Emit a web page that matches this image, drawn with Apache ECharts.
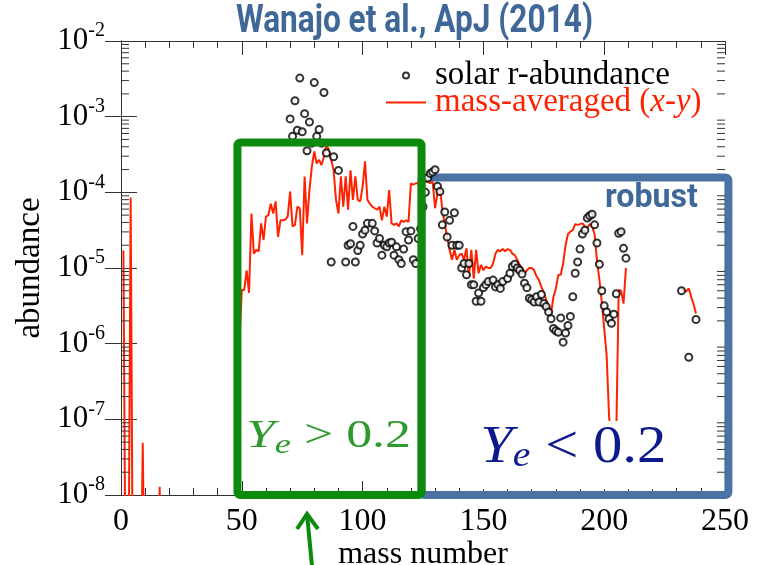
<!DOCTYPE html>
<html>
<head>
<meta charset="utf-8">
<script src="https://cdn.jsdelivr.net/npm/echarts@6/dist/echarts.min.js"></script>
<style>
  html, body { margin: 0; padding: 0; background: #fff; }
  #chart { width: 766px; height: 565px; }
</style>
</head>
<body>
<div id="chart"></div>
<script>
// Axis ranges
const massMin = 0, massMax = 250, massStep = 50;
const abundMin = 1e-8, abundMax = 1e-2;

const SOLAR_NAME = 'solar r-abundance';
const MODEL_NAME = 'mass-averaged (x-y)';

// Mass-averaged abundances, log10, for A = 1, 2, 3, ...
// null: nothing computed; -10: far below the plotted floor.
const modelLogY = [
  -4.77, -10, -10, -4.07, -10, -10, -10, -10, -7.31, -10,      // 1-10
  -10, -10, -10, -10, -10, -7.89, -10, null, null, null,        // 11-20
  null, null, null, null, null, null, null, null, null, null,   // 21-30
  null, null, null, null, null, null, null, null, null, null,   // 31-40
  null, null, null, null, null, null, null, -10, -6.0, -5.29,   // 41-50
  -5.29, -5.03, -5.33, -4.28, -4.81, -4.76, -4.78, -4.41, -4.63, -4.32, // 51-60
  -4.30, -4.15, -4.28, -4.12, -4.59, -4.37, -4.37, -4.36, -4.32, -3.99, // 61-70
  -4.45, -4.43, -4.19, -4.21, -4.83, -3.79, -4.41, -3.97, -3.66, -3.46, // 71-80
  -3.62, -3.57, -3.64, -3.53, -3.37, -3.44, -3.57, -3.71, -4.10, -4.28, // 81-90
  -3.79, -4.19, -3.79, -4.23, -3.71, -4.10, -3.79, -4.10, -4.12, -3.93, // 91-100
  -3.59, -4.10, -4.15, -4.19, -4.21, -4.23, -4.19, -4.37, -4.19, -4.32, // 101-110
  -3.97, -4.41, -4.43, -4.41, -4.45, -4.37, -4.39, -4.37, -4.39, -3.88, // 111-120
  -3.90, -3.88, -3.88, -3.87, -3.88, -3.86, -3.86, -3.88, -3.86, -4.21, // 121-130
  -4.01, -3.92, -4.23, -4.41, -4.59, -4.76, -4.89, -4.76, -4.89, -4.83, // 131-140
  -4.81, -4.89, -4.74, -5.11, -4.76, -5.14, -4.76, -5.07, -4.96, -5.03, // 141-150
  -4.98, -5.00, -5.00, -4.94, -4.81, -4.76, -4.78, -4.75, -4.78, -4.75, // 151-160
  -4.76, -4.81, -4.83, -4.89, -4.96, -5.00, -5.07, -5.03, -5.00, -5.00, // 161-170
  -5.03, -5.11, -5.16, -5.25, -5.33, -5.42, -5.51, -5.60, -5.38, -5.27, // 171-180
  -5.09, -5.09, -4.94, -4.70, -4.55, -4.52, -4.50, -4.42, -4.43, -4.42, // 181-190
  -4.41, -4.45, -4.47, -4.42, -4.45, -4.55, -4.90, -5.15, -5.45, -5.80, // 191-200
  -6.15, -6.95, -7.30, -7.30, -7.20, -5.29, -5.30, -5.47, -5.00, null,  // 201-210
  null, null, null, null, null, null, null, null, null, null,   // 211-220
  null, null, null, null, null, null, null, null, null, null,   // 221-230
  null, -5.28, -5.30, -5.31, -5.27, -5.38, -5.48, -5.60          // 231-238
];

// Solar r-process residuals: mass number and log10 abundance
const solarMass = [
  70, 71, 72, 73, 74, 75, 76, 77, 78, 79, 80, 81, 82, 83, 84, 85, 87, 88, 90,
  93, 94, 95, 96, 97, 98, 99, 100, 101, 102, 104, 105, 106, 107, 108, 109, 110,
  111, 112, 113, 114, 115, 116, 117, 118, 119, 120, 121, 122, 123, 124, 125, 126,
  127, 128, 129, 130, 131, 132, 133, 134, 135, 136, 137, 138, 139, 140, 141, 142,
  143, 144, 145, 146, 147, 148, 149, 150, 151, 152, 154, 155, 156, 157, 158, 160,
  161, 162, 163, 164, 165, 166, 167, 168, 169, 170, 171, 172, 173, 174, 175, 176,
  177, 178, 179, 180, 181, 182, 183, 184, 185, 186, 187, 188, 189, 190, 191, 192,
  193, 194, 195, 196, 197, 198, 199, 200, 201, 202, 203, 204, 205, 206, 207, 208,
  209, 232, 235, 238
];
const solarLogY = [
  -3.03, -3.26, -2.79, -3.18, -2.49, -3.20, -2.96, -3.45, -3.07, -3.35, -2.55, -3.26, -3.17, -3.35, -2.68, -3.48, -4.92, -3.53, -3.71,
  -4.92, -4.70, -4.68, -4.45, -4.92, -4.77, -4.70, -4.55, -4.50, -4.41, -4.41, -4.51, -4.67, -4.61, -4.83, -4.70, -4.72,
  -4.67, -4.66, -4.83, -4.72, -4.89, -4.94, -4.75, -4.52, -4.63, -4.51, -4.89, -4.94, -4.61, -4.48, -4.19, -4.00,
  -3.81, -3.75, -3.73, -3.70, -3.92, -3.99, -4.43, -4.26, -4.59, -4.37, -4.70, -4.27, -4.70, -4.70, -5.00, -4.94,
  -5.09, -4.94, -5.22, -5.22, -5.44, -5.33, -5.44, -5.26, -5.22, -5.18, -5.16, -5.25, -5.22, -5.27, -5.18, -5.14,
  -5.07, -4.98, -4.95, -5.00, -5.03, -5.08, -5.20, -5.26, -5.40, -5.42, -5.45, -5.38, -5.45, -5.35, -5.47, -5.51,
  -5.58, -5.67, -5.80, -5.83, -5.85, -5.66, -5.98, -5.86, -5.76, -5.64, -5.38, -5.07, -4.92, -4.75, -4.55, -4.50,
  -4.34, -4.31, -4.29, -4.43, -4.67, -4.95, -5.30, -5.50, -5.58, -5.67, -5.73, -5.61, -5.34, -4.54, -4.52, -4.74,
  -4.87, -5.30, -6.18, -5.68
];

// Outlined regions: [mass from, mass to, abundance bottom, abundance top]
const regionHighYe = [48.2, 124.4, 1e-8, 4.56e-4];
const regionLowYe = [124.4, 251.4, 1e-8, 1.57e-4];

// Decade exponents shown on the abundance axis
const decadeExponents = [-8, -7, -6, -5, -4, -3, -2];

const SERIF = 'Liberation Serif';
const FONT_SERIF = "'Liberation Serif', 'Times New Roman', serif";
const BANNER_FAMILY = 'Roboto';
const FRAME = '#333';
const RED = '#ff2200';
const GREEN = '#0b8a0b';
const STEEL = '#4a72a3';
const BANNER = '#3f6797';
const HIGH_YE_TEXT = '#2e9a2e';
const LOW_YE_TEXT = '#0d1a8c';

const modelData = modelLogY.map((v, i) => [i + 1, v === null ? null : Math.pow(10, v)]);
const solarData = solarMass.map((a, i) => [a, Math.pow(10, solarLogY[i])]);

// 2..9 x 10^n minor ticks of the log axis
const logMinorTicks = [];
for (let e = decadeExponents[0]; e < decadeExponents[decadeExponents.length - 1]; e++) {
  for (let k = 2; k <= 9; k++) logMinorTicks.push([massMin, k * Math.pow(10, e)]);
}

// Text width helper, used to squeeze/stretch banner text to a set width
const measureCtx = document.createElement('canvas').getContext('2d');
function textWidth(font, text) {
  measureCtx.font = font;
  return measureCtx.measureText(text).width;
}
function fitScale(parts, width) {
  let w = 0;
  parts.forEach(p => { w += textWidth(p[0], p[1]); });
  return width / w;
}

function boxRenderer(color) {
  return function (params, api) {
    const tl = api.coord([api.value(0), api.value(3)]);
    const br = api.coord([api.value(1), api.value(2)]);
    return {
      type: 'rect',
      shape: { x: tl[0], y: tl[1], width: br[0] - tl[0], height: br[1] - tl[1], r: 3 },
      style: { fill: 'none', stroke: color, lineWidth: 8, lineJoin: 'round' }
    };
  };
}

function minorTickRenderer(params, api) {
  const v = api.value(1);
  const left = api.coord([massMin, v]);
  const right = api.coord([massMax, v]);
  const st = { stroke: FRAME, lineWidth: 1 };
  return {
    type: 'group',
    children: [
      { type: 'line', shape: { x1: left[0], y1: left[1], x2: left[0] + 8, y2: left[1] }, style: st },
      { type: 'line', shape: { x1: right[0] - 8, y1: right[1], x2: right[0], y2: right[1] }, style: st }
    ]
  };
}

const xCommon = {
  type: 'value', min: massMin, max: massMax, interval: massStep,
  splitLine: { show: false },
  axisLine: { show: true, onZero: false, lineStyle: { color: FRAME, width: 1 } },
  axisTick: { show: true, inside: true, length: 14, lineStyle: { color: FRAME } },
  minorTick: { show: true, splitNumber: 5, length: 7, lineStyle: { color: FRAME } },
  minorSplitLine: { show: false }
};
const yCommon = {
  type: 'log', logBase: 10, min: abundMin, max: abundMax,
  splitLine: { show: false },
  axisLine: { show: true, lineStyle: { color: FRAME, width: 1 } },
  axisTick: { show: true, inside: true, length: 16, lineStyle: { color: FRAME } }
};

// Banner texts
const titleFont = 'bold 38px ' + BANNER_FAMILY;
const titleText = 'Wanajo et al., ApJ (2014)';
const robustFont = 'bold 33px ' + BANNER_FAMILY;
const highYeScale = fitScale([
  ['italic 40px "' + SERIF + '"', 'Y'], ['italic 28px "' + SERIF + '"', 'e'], ['40px "' + SERIF + '"', ' > 0.2']
], 165);
const lowYeScale = fitScale([
  ['italic 53px "' + SERIF + '"', 'Y'], ['italic 36px "' + SERIF + '"', 'e'], ['53px "' + SERIF + '"', ' < 0.2']
], 186);

const chart = echarts.init(document.getElementById('chart'), null, { renderer: 'canvas' });

chart.setOption({
  backgroundColor: '#fff',
  animation: false,
  grid: { left: 121, top: 41, right: 41, bottom: 70, containLabel: false, outerBoundsMode: 'none' },
  legend: {
    orient: 'vertical', left: 380, top: 54,
    itemWidth: 40, itemHeight: 6, itemGap: -6,
    selectedMode: false,
    textStyle: {
      fontFamily: FONT_SERIF, fontSize: 33, color: '#000',
      padding: [0, 0, 0, 4],
      rich: {
        it: { fontFamily: FONT_SERIF, fontStyle: 'italic', fontSize: 33, color: RED }
      }
    },
    formatter: function (name) {
      return name === MODEL_NAME ? 'mass-averaged ({it|x}-{it|y})' : name;
    },
    data: [
      { name: SOLAR_NAME, icon: 'circle' },
      { name: MODEL_NAME, textStyle: { color: RED }, itemStyle: { opacity: 0 } }
    ]
  },
  xAxis: [
    Object.assign({}, xCommon, {
      position: 'bottom',
      name: 'mass number', nameLocation: 'middle', nameGap: 44, nameMoveOverlap: false,
      nameTextStyle: { fontFamily: FONT_SERIF, fontSize: 32, color: '#000' },
      axisLabel: { fontFamily: FONT_SERIF, fontSize: 32, color: '#000', margin: 11 }
    }),
    Object.assign({}, xCommon, { position: 'top', axisLabel: { show: false } })
  ],
  yAxis: [
    Object.assign({}, yCommon, {
      position: 'left',
      name: 'abundance', nameLocation: 'middle', nameGap: 74,
      nameTextStyle: { fontFamily: FONT_SERIF, fontSize: 33, color: '#000' },
      axisLabel: {
        margin: 16,
        formatter: function (v) {
          return '{b|10}{s|' + Math.round(Math.log10(v)) + '}';
        },
        rich: {
          b: { fontFamily: FONT_SERIF, fontSize: 31, lineHeight: 40, color: '#000' },
          s: { fontFamily: FONT_SERIF, fontSize: 20, lineHeight: 20, verticalAlign: 'top', color: '#000' }
        }
      }
    }),
    Object.assign({}, yCommon, { position: 'right', axisLabel: { show: false } })
  ],
  series: [
    {
      name: 'robust region', type: 'custom', xAxisIndex: 0, yAxisIndex: 0,
      renderItem: boxRenderer(STEEL), encode: { x: [0, 1], y: [2, 3] },
      data: [regionLowYe], z: 1, silent: true, clip: false
    },
    {
      name: MODEL_NAME, type: 'line', xAxisIndex: 0, yAxisIndex: 0,
      data: modelData, showSymbol: false, symbol: 'none', connectNulls: false,
      lineStyle: { color: RED, width: 2 }, itemStyle: { color: RED },
      z: 2, clip: true
    },
    {
      name: SOLAR_NAME, type: 'scatter', xAxisIndex: 0, yAxisIndex: 0,
      data: solarData, symbol: 'circle', symbolSize: 7,
      itemStyle: { color: '#fff', borderColor: '#000', borderWidth: 2 },
      z: 3
    },
    {
      name: 'log minor ticks', type: 'custom', xAxisIndex: 0, yAxisIndex: 0,
      renderItem: minorTickRenderer, encode: { x: 0, y: 1 },
      data: logMinorTicks, z: 4, silent: true, clip: false
    },
    {
      name: 'Ye region', type: 'custom', xAxisIndex: 0, yAxisIndex: 0,
      renderItem: boxRenderer(GREEN), encode: { x: [0, 1], y: [2, 3] },
      data: [regionHighYe], z: 5, silent: true, clip: false
    }
  ],
  graphic: [
    {
      type: 'text', x: 236, y: 22, z: 10, silent: true,
      scaleX: 357 / textWidth(titleFont, titleText),
      style: { text: titleText, font: titleFont, fill: BANNER, align: 'left', verticalAlign: 'middle' }
    },
    {
      type: 'text', x: 605, y: 199, z: 10, silent: true,
      scaleX: 93 / textWidth(robustFont, 'robust'),
      style: { text: 'robust', font: robustFont, fill: BANNER, align: 'left', verticalAlign: 'middle' }
    },
    {
      type: 'text', x: 246, y: 412, z: 10, silent: true, scaleX: highYeScale,
      style: {
        text: '{y|Y}{e|e}{t| > 0.2}', align: 'left', verticalAlign: 'top',
        rich: {
          y: { fontFamily: SERIF, fontStyle: 'italic', fontSize: 40, lineHeight: 48, fill: HIGH_YE_TEXT },
          e: { fontFamily: SERIF, fontStyle: 'italic', fontSize: 28, lineHeight: 18, verticalAlign: 'bottom', fill: HIGH_YE_TEXT },
          t: { fontFamily: SERIF, fontSize: 40, lineHeight: 48, fill: HIGH_YE_TEXT }
        }
      }
    },
    {
      type: 'text', x: 478, y: 421, z: 10, silent: true, scaleX: lowYeScale,
      style: {
        text: '{y|Y}{e|e}{t| < 0.2}', align: 'left', verticalAlign: 'top',
        backgroundColor: '#fff', padding: [0, 4, 14, 2],
        rich: {
          y: { fontFamily: SERIF, fontStyle: 'italic', fontSize: 53, lineHeight: 54, fill: LOW_YE_TEXT },
          e: { fontFamily: SERIF, fontStyle: 'italic', fontSize: 36, lineHeight: 31, verticalAlign: 'bottom', fill: LOW_YE_TEXT },
          t: { fontFamily: SERIF, fontSize: 53, lineHeight: 54, fill: LOW_YE_TEXT }
        }
      }
    },
    {
      type: 'polyline', z: 10, silent: true,
      shape: { points: [[312, 566], [307, 514]] },
      style: { stroke: GREEN, lineWidth: 4, fill: 'none' }
    },
    {
      type: 'polyline', z: 10, silent: true,
      shape: { points: [[297, 529], [307, 514], [318, 529]] },
      style: { stroke: GREEN, lineWidth: 4, fill: 'none', lineJoin: 'miter' }
    }
  ]
});
</script>
</body>
</html>
